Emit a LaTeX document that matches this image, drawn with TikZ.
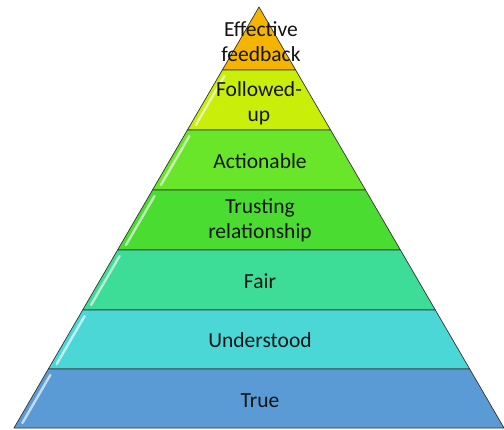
\documentclass[tikz,border=0pt]{standalone}
\usepackage{fontspec}
\setmainfont{Carlito}
\definecolor{cTop}{HTML}{F5B400}
\definecolor{cFol}{HTML}{C8EE0A}
\definecolor{cAct}{HTML}{6AE62A}
\definecolor{cTru}{HTML}{4ADC30}
\definecolor{cFai}{HTML}{3DDC97}
\definecolor{cUnd}{HTML}{4CD7D7}
\definecolor{cTrue}{HTML}{5B9BD5}
\definecolor{txt}{HTML}{141414}
\begin{document}
\begin{tikzpicture}[x=1pt,y=-1pt,
  layer/.style={draw=black!80, line width=0.7pt, line join=round},
  hilite/.style={white, opacity=0.65, line width=2.4pt, line cap=round},
  lbl/.style={text=txt, align=center, font=\fontsize{21.5}{25}\selectfont, inner sep=0pt}]
\useasboundingbox (0,0) rectangle (504,429);
\fill[white] (0,0) rectangle (504,429);
\foreach \ya/\yb/\col in {7/70/cTop,70/130/cFol,130/190/cAct,190/250/cTru,250/310/cFai,310/369/cUnd,369/428/cTrue}{
  \pgfmathsetmacro\wa{(\ya-7)*0.582}
  \pgfmathsetmacro\wb{(\yb-7)*0.582}
  \filldraw[layer, fill=\col] (259-\wa,\ya) -- (259+\wa,\ya) -- (259+\wb,\yb) -- (259-\wb,\yb) -- cycle;
}
\foreach \ya/\yb in {70/130,130/190,190/250,250/310,310/369,369/428}{
  \pgfmathsetmacro\ha{259-(\ya+6-7)*0.582+5.5}
  \pgfmathsetmacro\hb{259-(\yb-5-7)*0.582+5.5}
  \draw[hilite] (\ha,\ya+6) -- (\hb,\yb-5);
}
\node[lbl] (eff) at (261,42) {Effective\\feedback};
\node[lbl] (fol) at (259,103) {Followed-\\up};
\node[lbl] (act) at (260,161) {Actionable};
\node[lbl] (tru) at (260,220) {Trusting\\relationship};
\node[lbl] (fai) at (260,281) {Fair};
\node[lbl] (und) at (260,340) {Understood};
\node[lbl] (tr) at (260,401) {True};
\end{tikzpicture}
\end{document}
